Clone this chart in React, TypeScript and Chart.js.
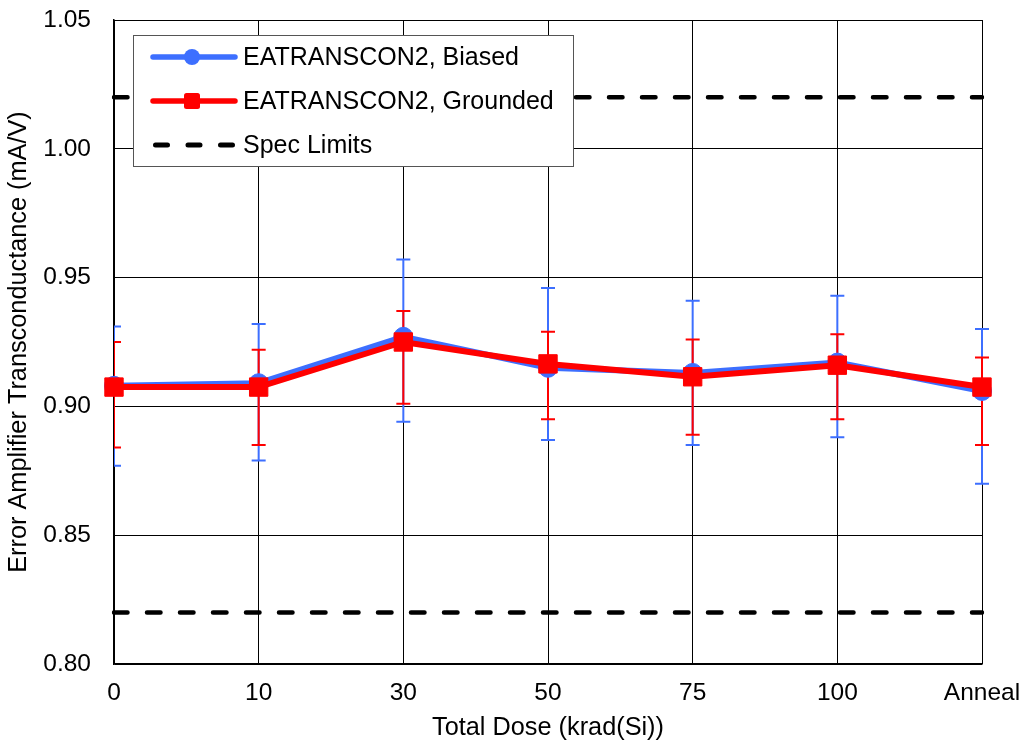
import React, { useEffect, useRef } from 'react';
import { Chart, registerables } from 'chart.js';

Chart.register(...registerables);

const categories = ['0', '10', '30', '50', '75', '100', 'Anneal'];

const biasedMean = [0.908, 0.909, 0.927, 0.915, 0.913, 0.917, 0.906];
const biasedHigh = [0.931, 0.932, 0.957, 0.946, 0.941, 0.943, 0.93];
const biasedLow = [0.877, 0.879, 0.894, 0.887, 0.885, 0.888, 0.87];

const groundedMean = [0.9075, 0.9075, 0.925, 0.9165, 0.9115, 0.916, 0.9075];
const groundedHigh = [0.925, 0.922, 0.937, 0.929, 0.926, 0.928, 0.919];
const groundedLow = [0.884, 0.885, 0.901, 0.895, 0.889, 0.895, 0.885];

const specUpper = [1.02, 1.02, 1.02, 1.02, 1.02, 1.02, 1.02];
const specLower = [0.82, 0.82, 0.82, 0.82, 0.82, 0.82, 0.82];

const yMin = 0.8;
const yMax = 1.05;
const yStep = 0.05;

const legendLabels = ['EATRANSCON2, Biased', 'EATRANSCON2, Grounded', 'Spec Limits'];

const BLUE = '#3D6FFF';
const RED = '#FF0000';
const FONT = '"Liberation Sans", Arial, sans-serif';
const FS = 24.5;
const TITLE_FS = 25.3;
const LEGEND_FS = 25;

const errorBarPlugin = {
  id: 'errorBars',
  beforeDatasetsDraw(chart: any) {
    const ctx = chart.ctx;
    const y = chart.scales.y;
    const ca = chart.chartArea;
    const sets = [
      { idx: 1, hi: biasedHigh, lo: biasedLow, color: BLUE },
      { idx: 0, hi: groundedHigh, lo: groundedLow, color: RED },
    ];
    ctx.save();
    ctx.beginPath();
    ctx.rect(ca.left, 0, chart.width - ca.left, chart.height);
    ctx.clip();
    for (const s of sets) {
      const meta = chart.getDatasetMeta(s.idx);
      ctx.strokeStyle = s.color;
      ctx.lineWidth = 2;
      meta.data.forEach((pt: any, i: number) => {
        const x = pt.x;
        const yh = y.getPixelForValue(s.hi[i]);
        const yl = y.getPixelForValue(s.lo[i]);
        ctx.beginPath();
        ctx.moveTo(x, yh);
        ctx.lineTo(x, yl);
        ctx.moveTo(x - 7, yh);
        ctx.lineTo(x + 7, yh);
        ctx.moveTo(x - 7, yl);
        ctx.lineTo(x + 7, yl);
        ctx.stroke();
      });
    }
    ctx.restore();
  },
};

const legendPlugin = {
  id: 'customLegend',
  afterDraw(chart: any) {
    const ctx = chart.ctx;
    const ca = chart.chartArea;
    const left = ca.left + 19;
    const top = ca.top + 15;
    const w = 440;
    const h = 131;
    ctx.save();
    ctx.fillStyle = '#ffffff';
    ctx.fillRect(left, top, w, h);
    ctx.strokeStyle = '#555555';
    ctx.lineWidth = 1;
    ctx.strokeRect(left + 0.5, top + 0.5, w, h);

    const rows = [top + 22, top + 66, top + 110];
    const lx1 = left + 20;
    const lx2 = left + 102;
    const mx = left + 59;

    ctx.strokeStyle = BLUE;
    ctx.lineWidth = 5.5;
    ctx.lineCap = 'round';
    ctx.beginPath();
    ctx.moveTo(lx1, rows[0]);
    ctx.lineTo(lx2, rows[0]);
    ctx.stroke();
    ctx.fillStyle = BLUE;
    ctx.beginPath();
    ctx.arc(mx, rows[0], 8, 0, Math.PI * 2);
    ctx.fill();

    ctx.strokeStyle = RED;
    ctx.beginPath();
    ctx.moveTo(lx1, rows[1]);
    ctx.lineTo(lx2, rows[1]);
    ctx.stroke();
    ctx.fillStyle = RED;
    ctx.beginPath();
    if (ctx.roundRect) {
      ctx.roundRect(mx - 8, rows[1] - 8, 16, 16, 2.5);
    } else {
      ctx.rect(mx - 8, rows[1] - 8, 16, 16);
    }
    ctx.fill();

    ctx.strokeStyle = '#000000';
    ctx.lineWidth = 5;
    ctx.setLineDash([12, 20.5]);
    ctx.beginPath();
    ctx.moveTo(lx1 + 2.5, rows[2]);
    ctx.lineTo(lx2, rows[2]);
    ctx.stroke();
    ctx.setLineDash([]);

    ctx.fillStyle = '#000000';
    ctx.font = `${LEGEND_FS}px ${FONT}`;
    ctx.textBaseline = 'middle';
    ctx.textAlign = 'left';
    legendLabels.forEach((t, i) => {
      ctx.fillText(t, left + 110, rows[i] + 1);
    });
    ctx.restore();
  },
};

export default function App() {
  const ref = useRef<HTMLCanvasElement | null>(null);

  useEffect(() => {
    document.body.style.margin = '0';
    if (!ref.current) return;
    const chart = new Chart(ref.current, {
      type: 'line',
      data: {
        labels: categories,
        datasets: [
          {
            label: legendLabels[1],
            data: groundedMean,
            borderColor: RED,
            backgroundColor: RED,
            borderWidth: 6,
            pointStyle: 'rect',
            pointRadius: 13,
            pointBorderWidth: 1,
            pointBackgroundColor: RED,
            pointBorderColor: RED,
            clip: false,
          },
          {
            label: legendLabels[0],
            data: biasedMean,
            borderColor: BLUE,
            backgroundColor: BLUE,
            borderWidth: 6,
            pointStyle: 'circle',
            pointRadius: 9.5,
            pointBorderWidth: 1,
            pointBackgroundColor: BLUE,
            pointBorderColor: BLUE,
            clip: false,
          },
          {
            label: legendLabels[2],
            data: specUpper,
            borderColor: '#000000',
            borderWidth: 4.5,
            borderDash: [13.5, 19.5],
            borderCapStyle: 'round',
            pointRadius: 0,
          },
          {
            label: legendLabels[2] + ' low',
            data: specLower,
            borderColor: '#000000',
            borderWidth: 4.5,
            borderDash: [13.5, 19.5],
            borderCapStyle: 'round',
            pointRadius: 0,
          },
        ],
      },
      options: {
        responsive: false,
        animation: false,
        layout: { padding: { left: 0, right: 44, top: 20, bottom: 0 } },
        plugins: {
          legend: { display: false },
          tooltip: { enabled: false },
        },
        scales: {
          x: {
            type: 'category',
            offset: false,
            grid: { color: '#000000', lineWidth: 1, drawTicks: false },
            border: { display: true, color: '#000000', width: 1.5 },
            ticks: {
              color: '#000000',
              font: { family: FONT, size: FS },
              padding: 15,
              maxRotation: 0,
              autoSkip: false,
            },
            title: {
              display: true,
              text: 'Total Dose (krad(Si))',
              color: '#000000',
              font: { family: FONT, size: TITLE_FS },
              padding: 4,
            },
            afterFit: (s: any) => {
              s.height = 83;
              s.paddingLeft = 0;
              s.paddingRight = 0;
            },
          },
          y: {
            type: 'linear',
            min: yMin,
            max: yMax,
            grid: { color: '#000000', lineWidth: 1, drawTicks: false },
            border: { display: true, color: '#000000', width: 1.5 },
            ticks: {
              stepSize: yStep,
              color: '#000000',
              font: { family: FONT, size: FS },
              padding: 23,
              callback: (v: any) => Number(v).toFixed(2),
            },
            title: {
              display: true,
              text: 'Error Amplifier Transconductance (mA/V)',
              color: '#000000',
              font: { family: FONT, size: TITLE_FS },
              padding: 4,
            },
            afterFit: (s: any) => {
              s.width = 114;
              s.paddingTop = 0;
              s.paddingBottom = 0;
            },
          },
        },
      },
      plugins: [errorBarPlugin, legendPlugin],
    } as any);
    return () => chart.destroy();
  }, []);

  return (
    <div style={{ width: 1026, height: 747, background: '#ffffff' }}>
      <canvas ref={ref} width={1026} height={747} style={{ display: 'block' }} />
    </div>
  );
}
